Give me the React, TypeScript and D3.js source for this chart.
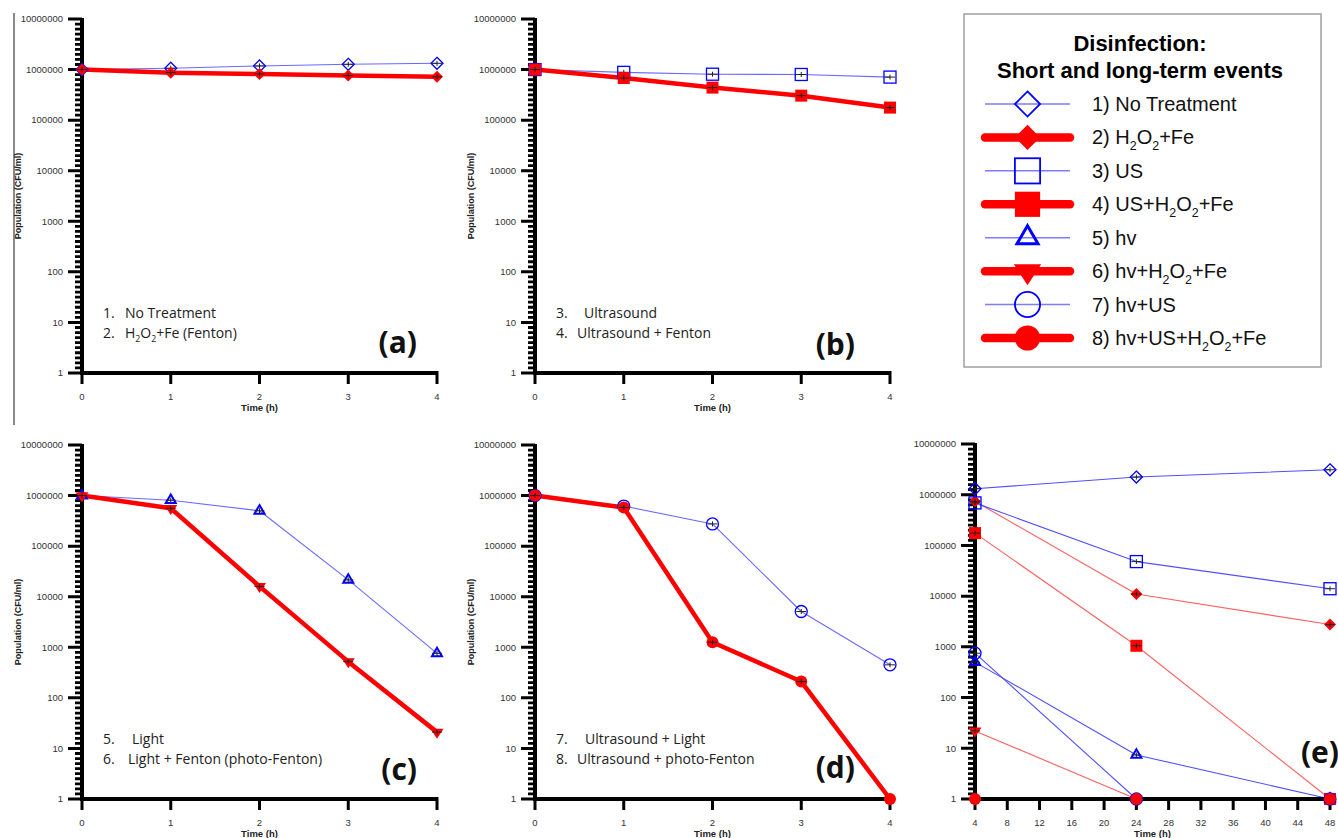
import React from "react";
import * as d3 from "d3";

// ---------- data ----------
const shortHours = [0, 1, 2, 3, 4];
const longHours = [4, 24, 48];
const shortTicks = [0, 1, 2, 3, 4];
const longTicks = [4, 8, 12, 16, 20, 24, 28, 32, 36, 40, 44, 48];
const yTicks = [1, 10, 100, 1000, 10000, 100000, 1000000, 10000000];

const noTreatment = [1.0e6, 1.06e6, 1.18e6, 1.27e6, 1.33e6];
const fenton = [1.0e6, 8.7e5, 8.2e5, 7.6e5, 7.2e5];
const ultrasound = [1.0e6, 8.8e5, 8.1e5, 8.0e5, 7.1e5];
const ultrasoundFenton = [1.0e6, 6.8e5, 4.4e5, 3.05e5, 1.77e5];
const light = [1.0e6, 8.1e5, 5.0e5, 2.15e4, 760];
const photoFenton = [1.0e6, 5.6e5, 1.6e4, 520, 21];
const ultrasoundLight = [1.0e6, 6.2e5, 2.75e5, 5100, 450];
const ultrasoundPhotoFenton = [1.0e6, 5.8e5, 1260, 210, 1];

const longNoTreatment = [1.31e6, 2.23e6, 3.1e6];
const longFenton = [7.4e5, 1.1e4, 2750];
const longUltrasound = [6.9e5, 4.8e4, 1.4e4];
const longUltrasoundFenton = [1.75e5, 1050, 1];
const longLight = [500, 7.4, 1];
const longPhotoFenton = [22, 1, 1];
const longUltrasoundLight = [750, 1, 1];
const longUltrasoundPhotoFenton = [1, 1, 1];

const treatmentNames = [
  "1) No Treatment",
  "2) H2O2+Fe",
  "3) US",
  "4) US+H2O2+Fe",
  "5) hv",
  "6) hv+H2O2+Fe",
  "7) hv+US",
  "8) hv+US+H2O2+Fe",
];
const treatmentColors = ["blue", "red", "blue", "red", "blue", "red", "blue", "red"];
const treatmentShapes = ["diamond", "diamond", "square", "square", "triUp", "triDown", "circle", "circle"];

const legendTitle = ["Disinfection:", "Short and long-term events"];
const yTitle = "Population (CFU/ml)";
const xTitle = "Time (h)";

// ---------- layout ----------
const panels: any[] = [
  {
    id: "a", geom: { left: 82, right: 437, top: 19, bottom: 373 }, hours: shortHours, ticks: shortTicks, long: false,
    series: [{ t: 0, v: noTreatment }, { t: 1, v: fenton }],
    notes: [["1.", "No Treatment", 43], ["2.", "H2O2+Fe (Fenton)", 43]],
    tag: "(a)", tagPos: [417, 353], yTitle: true,
  },
  {
    id: "b", geom: { left: 535, right: 890, top: 19, bottom: 373 }, hours: shortHours, ticks: shortTicks, long: false,
    series: [{ t: 2, v: ultrasound }, { t: 3, v: ultrasoundFenton }],
    notes: [["3.", "Ultrasound", 49], ["4.", "Ultrasound + Fenton", 42]],
    tag: "(b)", tagPos: [855, 355], yTitle: true,
  },
  {
    id: "c", geom: { left: 82, right: 437, top: 445, bottom: 799 }, hours: shortHours, ticks: shortTicks, long: false,
    series: [{ t: 4, v: light }, { t: 5, v: photoFenton }],
    notes: [["5.", "Light", 50], ["6.", "Light + Fenton (photo-Fenton)", 46]],
    tag: "(c)", tagPos: [417, 780], yTitle: true,
  },
  {
    id: "d", geom: { left: 535, right: 890, top: 445, bottom: 799 }, hours: shortHours, ticks: shortTicks, long: false,
    series: [{ t: 6, v: ultrasoundLight }, { t: 7, v: ultrasoundPhotoFenton }],
    notes: [["7.", "Ultrasound + Light", 50], ["8.", "Ultrasound + photo-Fenton", 42]],
    tag: "(d)", tagPos: [855, 778], yTitle: true,
  },
  {
    id: "e", geom: { left: 975, right: 1330, top: 444, bottom: 799 }, hours: longHours, ticks: longTicks, long: true,
    series: [
      { t: 0, v: longNoTreatment }, { t: 1, v: longFenton }, { t: 2, v: longUltrasound }, { t: 3, v: longUltrasoundFenton },
      { t: 4, v: longLight }, { t: 5, v: longPhotoFenton }, { t: 6, v: longUltrasoundLight }, { t: 7, v: longUltrasoundPhotoFenton },
    ],
    notes: [],
    tag: "(e)", tagPos: [1339, 763], yTitle: false,
  },
];

const BLUE = "#0000ff";
const RED = "#ff0000";

function chem(text: string, fs: number) {
  const parts = text.split("H2O2");
  const out: any[] = [];
  parts.forEach((p, i) => {
    if (i > 0) {
      out.push(<tspan key={"h" + i}>H</tspan>);
      out.push(<tspan key={"s1" + i} dy={fs * 0.28} fontSize={fs * 0.62}>2</tspan>);
      out.push(<tspan key={"o" + i} dy={-fs * 0.28}>O</tspan>);
      out.push(<tspan key={"s2" + i} dy={fs * 0.28} fontSize={fs * 0.62}>2</tspan>);
      out.push(<tspan key={"p" + i} dy={-fs * 0.28}>{p}</tspan>);
    } else if (p) {
      out.push(<tspan key={"p" + i}>{p}</tspan>);
    }
  });
  return out;
}

function marker(key: string, shape: string, color: string, x: number, y: number, scale: number) {
  const isBlue = color === "blue";
  const fill = isBlue ? "none" : RED;
  const stroke = isBlue ? BLUE : "none";
  const big = scale > 1.5;
  const sw = isBlue ? (shape === "triUp" ? (big ? 3 : 2) : big ? 1.8 : 1.3) : 0;
  if (shape === "diamond") {
    const h = 6 * scale;
    return <path key={key} d={`M${x},${y - h}L${x + h},${y}L${x},${y + h}L${x - h},${y}Z`} fill={fill} stroke={stroke} strokeWidth={sw} />;
  }
  if (shape === "square") {
    const s = 12 * scale;
    return <rect key={key} x={x - s / 2} y={y - s / 2} width={s} height={s} fill={fill} stroke={stroke} strokeWidth={sw} />;
  }
  if (shape === "triUp") {
    const w = 5 * scale, h = 8.5 * scale;
    return <path key={key} d={`M${x},${y - (2 * h) / 3}L${x + w},${y + h / 3}L${x - w},${y + h / 3}Z`} fill={fill} stroke={stroke} strokeWidth={sw} />;
  }
  if (shape === "triDown") {
    const w = 6.5 * scale, h = 10 * scale;
    return <path key={key} d={`M${x},${y + (2 * h) / 3}L${x + w},${y - h / 3}L${x - w},${y - h / 3}Z`} fill={fill} stroke={stroke} strokeWidth={sw} />;
  }
  return <circle key={key} cx={x} cy={y} r={6 * scale} fill={fill} stroke={stroke} strokeWidth={sw} />;
}

export default function App() {
  const tickFont = "Liberation Sans, Arial, sans-serif";
  const minor: number[] = [];
  for (let d = 0; d < 7; d++) for (let k = 1; k < 10; k++) minor.push(Math.pow(10, d + k / 10));

  const axisEls: any[] = [];
  const texts: any[] = [];
  const seriesEls: any[] = [];

  panels.forEach((p) => {
    const g = p.geom;
    const x = d3.scaleLinear().domain([p.ticks[0], p.ticks[p.ticks.length - 1]]).range([g.left, g.right]);
    const y = d3.scaleLog().domain([1, 1e7]).range([g.bottom, g.top]);

    // axes as filled polygons (drawn on top of series lines)
    let fillD = `M${g.left - 2},${g.top - 1}H${g.left + 2}V${g.bottom - 2}H${g.right + 1.5}V${g.bottom + 2}H${g.left - 2}Z`;
    yTicks.forEach((v) => { const yy = y(v); fillD += `M${g.left - 14},${yy - 1.5}H${g.left}V${yy + 1.5}H${g.left - 14}Z`; });
    minor.forEach((v) => { const yy = y(v); fillD += `M${g.left - 7},${yy - 1.4}H${g.left}V${yy + 1.4}H${g.left - 7}Z`; });
    p.ticks.forEach((t: number) => { const xx = x(t); fillD += `M${xx - 1.5},${g.bottom}H${xx + 1.5}V${g.bottom + 11}H${xx - 1.5}Z`; });
    axisEls.push(<path key={"ax" + p.id} d={fillD} fill="#000" stroke="none" />);

    yTicks.forEach((v) => texts.push(
      <text key={p.id + "yt" + v} x={g.left - 19} y={y(v) + 3.3} textAnchor="end" fontSize={9.5} fontFamily={tickFont} fill="#333">{String(v)}</text>
    ));
    p.ticks.forEach((t: number) => texts.push(
      <text key={p.id + "xt" + t} x={x(t)} y={g.bottom + 27} textAnchor="middle" fontSize={9.5} fontFamily={tickFont} fill="#333">{String(t)}</text>
    ));
    texts.push(<text key={p.id + "xtitle"} x={(g.left + g.right) / 2} y={g.bottom + 38} textAnchor="middle" fontSize={9.5} fontWeight="bold" fontFamily={tickFont} fill="#222">{xTitle}</text>);
    if (p.yTitle) texts.push(
      <text key={p.id + "ytitle"} transform={`translate(${g.left - 61},${(g.top + g.bottom) / 2}) rotate(-90)`} textAnchor="middle" fontSize={9} fontWeight="bold" fontFamily={tickFont} fill="#222">{yTitle}</text>
    );
    p.notes.forEach((n: any, i: number) => {
      texts.push(<text key={p.id + "nn" + i} x={g.left + 21} y={g.bottom - 55 + i * 20} fontFamily="Open Sans, sans-serif" fontSize={14} fill="#222">{n[0]}</text>);
      texts.push(<text key={p.id + "nt" + i} x={g.left + n[2]} y={g.bottom - 55 + i * 20} fontFamily="Open Sans, sans-serif" fontSize={14} fill="#222">{chem(n[1], 14)}</text>);
    });
    texts.push(<text key={p.id + "tag"} x={p.tagPos[0]} y={p.tagPos[1]} textAnchor="end" fontSize={30} fontWeight="bold" fontFamily="Open Sans, sans-serif" fill="#111">{p.tag}</text>);

    const line = d3.line<number>().x((_, i) => x(p.hours[i])).y((v) => y(v));
    p.series.forEach((s: any, si: number) => {
      const isRed = treatmentColors[s.t] === "red";
      const stroke = isRed ? (p.long ? "#ff6060" : RED) : p.long ? "#5050ff" : "#6a6aff";
      const sw = isRed ? (p.long ? 1.1 : 4.5) : 1.1;
      seriesEls.push(<path key={p.id + "l" + si} d={line(s.v) || ""} fill="none" stroke={stroke} strokeWidth={sw} strokeLinejoin="round" />);
    });
  });

  const markerEls: any[] = [];
  panels.forEach((p) => {
    const g = p.geom;
    const x = d3.scaleLinear().domain([p.ticks[0], p.ticks[p.ticks.length - 1]]).range([g.left, g.right]);
    const y = d3.scaleLog().domain([1, 1e7]).range([g.bottom, g.top]);
    p.series.forEach((s: any, si: number) => {
      s.v.forEach((v: number, i: number) => {
        const cx = x(p.hours[i]), cy = y(v);
        markerEls.push(marker(p.id + "m" + si + "_" + i, treatmentShapes[s.t], treatmentColors[s.t], cx, cy, 1));
        if (v > 1) {
          markerEls.push(<path key={p.id + "e" + si + "_" + i} d={`M${cx - 5},${cy}H${cx + 5}M${cx},${cy - 2.5}V${cy + 2.5}`} stroke="#222" strokeWidth={1} fill="none" />);
        }
      });
    });
  });

  const rowY = d3.scaleLinear().domain([0, 7]).range([104, 338]);
  const font = "Liberation Sans, Arial, sans-serif";
  const legendEls: any[] = [];
  treatmentNames.forEach((name, i) => {
    const cy = rowY(i);
    const isRed = treatmentColors[i] === "red";
    legendEls.push(<line key={"ll" + i} x1={985} x2={1070} y1={cy} y2={cy} stroke={isRed ? RED : "#7d7dff"} strokeWidth={isRed ? 8.5 : 1.5} strokeLinecap={isRed ? "round" : "butt"} />);
    legendEls.push(marker("lm" + i, treatmentShapes[i], treatmentColors[i], 1027.5, cy, 2.1));
    legendEls.push(<text key={"lt" + i} x={1092} y={cy + 7} fontSize={20} fontFamily={font} fill="#111">{chem(name, 20)}</text>);
  });

  return (
    <svg width={1338} height={838} style={{ position: "absolute", left: 0, top: 0, background: "#fff" }}>
      <rect x={0} y={0} width={1338} height={838} fill="#fff" />
      <rect x={13} y={13} width={2} height={412} fill="#8a8a8a" />
      {texts}
      {seriesEls}
      {axisEls}
      {markerEls}
      <rect x={964} y={14} width={357} height={353} fill="#fff" stroke="#a0a0a0" strokeWidth={1.5} />
      <text x={1140} y={51} textAnchor="middle" fontSize={22} fontWeight="bold" fontFamily={font} fill="#000">{legendTitle[0]}</text>
      <text x={1140} y={78} textAnchor="middle" fontSize={22} fontWeight="bold" fontFamily={font} fill="#000">{legendTitle[1]}</text>
      {legendEls}
    </svg>
  );
}
